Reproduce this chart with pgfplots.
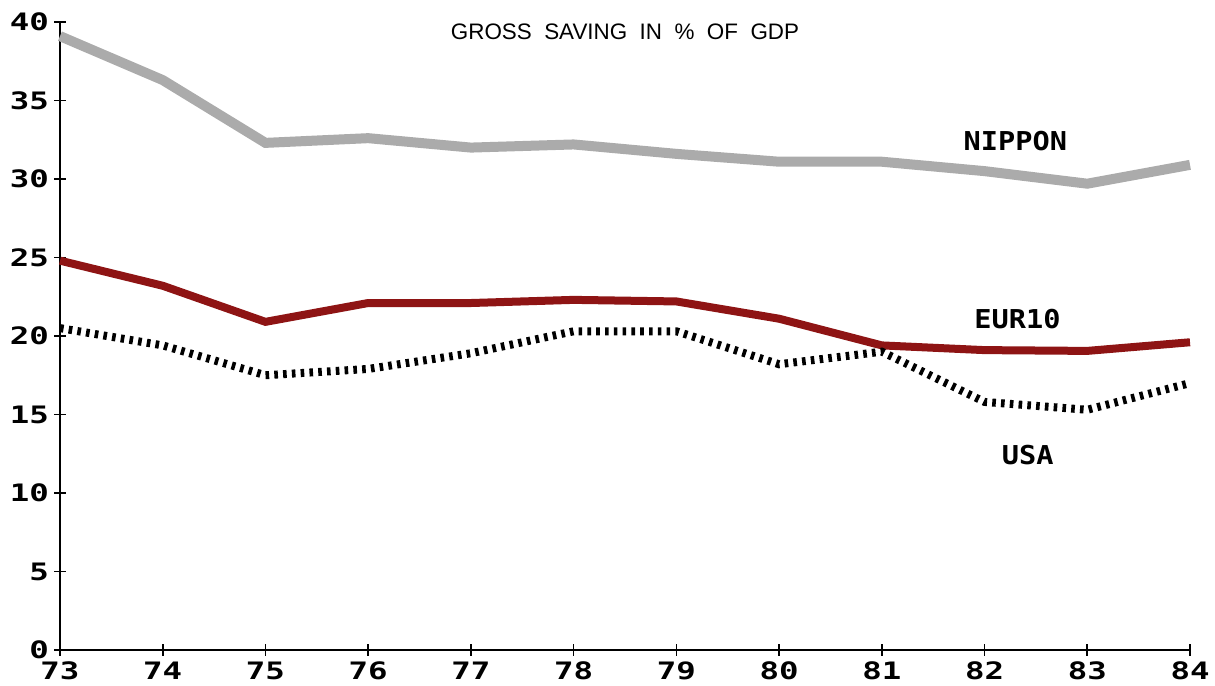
\documentclass[border=0pt]{standalone}
\usepackage{pgfplots}
\pgfplotsset{compat=1.18}
\usepackage{fontspec}
\setmainfont{Liberation Sans}
\newfontfamily\tickfont[FakeStretch=1.35]{DejaVu Sans Mono}
\newfontfamily\labfont[FakeStretch=1.1]{DejaVu Sans Mono}

\definecolor{eurred}{HTML}{8E1414}
\definecolor{nipgray}{HTML}{ABABAB}

\begin{document}
\begin{tikzpicture}
\begin{axis}[
    scale only axis,
    width=565pt, height=314pt,
    xmin=73, xmax=84, ymin=0, ymax=40,
    xtick={73,...,84}, ytick={0,5,...,40},
    axis x line*=bottom, axis y line*=left,
    axis line style={line width=1pt, -},
    tick align=center, major tick length=6pt,
    tick style={black, line width=0.8pt},
    /pgf/number format/assume math mode=true,
    ticklabel style={font=\tickfont\bfseries\fontsize{12}{14}\selectfont},
    xticklabel style={yshift=0.5pt},
    yticklabel style={xshift=1pt},
    clip=false,
]
\addplot[nipgray, line width=5pt] coordinates {
(73,39.1) (74,36.3) (75,32.3) (76,32.6) (77,32.0) (78,32.2)
(79,31.6) (80,31.1) (81,31.1) (82,30.5) (83,29.7) (84,30.9)};
\addplot[eurred, line width=4pt] coordinates {
(73,24.8) (74,23.2) (75,20.9) (76,22.1) (77,22.1) (78,22.3)
(79,22.2) (80,21.1) (81,19.4) (82,19.1) (83,19.05) (84,19.6)};
\addplot[black, line width=4pt, dash pattern=on 1.8pt off 2.6pt] coordinates {
(73,20.5) (74,19.4) (75,17.5) (76,17.9) (77,18.9) (78,20.3)
(79,20.3) (80,18.2) (81,19.0) (82,15.8) (83,15.3) (84,17.0)};
\node[font=\fontsize{11.2}{13}\selectfont] at (rel axis cs:0.5,0.984) {GROSS\ \ SAVING\ \ IN\ \ \%\ \ OF\ \ GDP};
\node[font=\labfont\bfseries\fontsize{13}{14}\selectfont] at (axis cs:82.30,32.44) {NIPPON};
\node[font=\labfont\bfseries\fontsize{13}{14}\selectfont] at (axis cs:82.32,21.08) {EUR10};
\node[font=\labfont\bfseries\fontsize{13}{14}\selectfont] at (axis cs:82.42,12.44) {USA};
\coordinate (bl) at (rel axis cs:0,0);
\coordinate (tr) at (rel axis cs:1,1);
\end{axis}
\pgfresetboundingbox
\path ([shift={(-30pt,-18pt)}]bl) rectangle ([shift={(12.5pt,11pt)}]tr);
\end{tikzpicture}
\end{document}
